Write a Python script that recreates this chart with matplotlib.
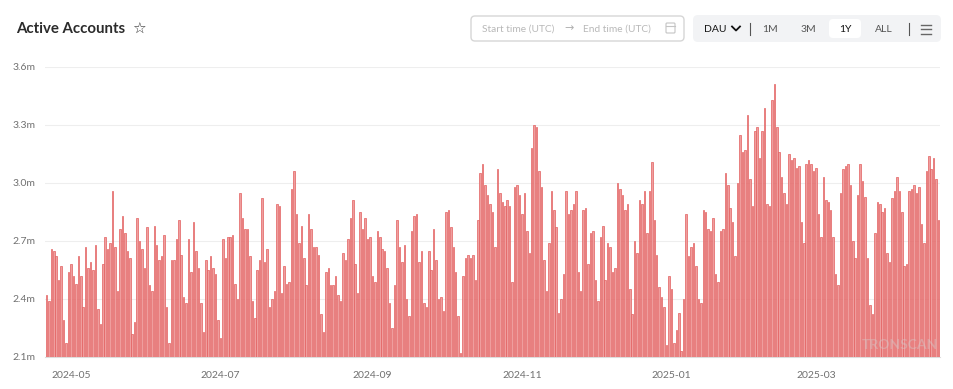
import numpy as np
import pandas as pd
import matplotlib
matplotlib.use("Agg")
import matplotlib.pyplot as plt
import matplotlib.dates as mdates
from matplotlib.patches import FancyBboxPatch
from matplotlib.ticker import FuncFormatter, MultipleLocator

plt.rcParams['font.family'] = ['Lato', 'DejaVu Sans']

# daily active accounts, millions, 2024-04-21 .. 2025-04-20
dau_apr_may = [2.42, 2.39, 2.66, 2.65, 2.62, 2.50, 2.57, 2.29, 2.17, 2.54,
               2.58, 2.52, 2.48, 2.62, 2.52, 2.36, 2.67, 2.56, 2.59, 2.55,
               2.68, 2.35, 2.27, 2.58, 2.72, 2.66, 2.69, 2.96, 2.67, 2.44,
               2.76, 2.83]
dau_may_jun = [2.74, 2.65, 2.61, 2.22, 2.28, 2.82, 2.70, 2.66, 2.56, 2.77,
               2.47, 2.44, 2.78, 2.68, 2.60, 2.62, 2.73, 2.36, 2.17, 2.60,
               2.60, 2.71, 2.81, 2.63, 2.41, 2.38, 2.71, 2.54, 2.80, 2.65,
               2.56, 2.38, 2.23, 2.60]
dau_jun_jul = [2.55, 2.62, 2.56, 2.53, 2.29, 2.20, 2.71, 2.61, 2.72, 2.72,
               2.73, 2.48, 2.40, 2.95, 2.82, 2.76, 2.76, 2.62, 2.39, 2.30,
               2.55, 2.60, 2.92, 2.59, 2.66, 2.36, 2.40, 2.44, 2.89, 2.88,
               2.43, 2.57, 2.48]
dau_jul_aug = [2.49, 2.97, 3.06, 2.84, 2.69, 2.78, 2.61, 2.47, 2.84, 2.76,
               2.67, 2.67, 2.63, 2.32, 2.23, 2.54, 2.56, 2.47, 2.47, 2.52,
               2.42, 2.39, 2.64, 2.60, 2.71, 2.82, 2.91, 2.58, 2.43, 2.85,
               2.76, 2.82, 2.71, 2.72]
dau_sep_oct = [2.52, 2.49, 2.75, 2.72, 2.66, 2.65, 2.56, 2.38, 2.25, 2.47,
               2.81, 2.67, 2.59, 2.68, 2.40, 2.31, 2.75, 2.83, 2.84, 2.59,
               2.65, 2.38, 2.36, 2.65, 2.55, 2.76, 2.60, 2.40, 2.41, 2.34,
               2.85, 2.86, 2.77]
dau_oct_nov = [2.67, 2.54, 2.31, 2.12, 2.52, 2.61, 2.63, 2.61, 2.63, 2.50,
               2.81, 3.05, 3.10, 2.99, 2.94, 2.89, 2.85, 2.67, 3.07, 2.95,
               2.90, 2.88, 2.91, 2.88, 2.49, 2.98, 2.99, 2.94, 2.84, 2.95,
               2.75, 2.64, 3.18, 3.30]
dau_nov_dec = [3.29, 3.06, 2.98, 2.60, 2.44, 2.69, 2.96, 2.86, 2.77, 2.33,
               2.40, 2.53, 2.96, 2.84, 2.86, 2.89, 2.96, 2.54, 2.44, 2.86,
               2.87, 2.58, 2.74, 2.75, 2.50, 2.39, 2.72, 2.78, 2.50, 2.69,
               2.67, 2.54, 2.56]
dau_dec_jan = [3.00, 2.97, 2.94, 2.86, 2.89, 2.45, 2.32, 2.70, 2.64, 2.91,
               2.89, 2.96, 2.74, 2.96, 3.11, 2.81, 2.63, 2.46, 2.41, 2.36,
               2.16, 2.52, 2.45, 2.17, 2.24, 2.33, 2.13, 2.40, 2.84, 2.62,
               2.67, 2.69, 2.57, 2.40]
dau_jan_feb = [2.38, 2.86, 2.85, 2.76, 2.75, 2.82, 2.53, 2.49, 2.75, 2.76,
               3.05, 2.99, 2.87, 2.80, 2.62, 3.00, 3.25, 3.16, 3.17, 3.35,
               3.02, 2.88, 3.27, 3.29, 3.13, 3.27, 3.39, 2.89, 2.88, 3.43,
               3.51, 3.29, 3.16]
dau_feb_mar = [3.03, 2.95, 2.89, 3.15, 3.12, 3.13, 3.08, 3.09, 2.80, 2.69,
               3.10, 3.12, 3.10, 3.06, 3.08, 2.84, 2.72, 3.03, 2.91, 2.90,
               2.86, 2.72, 2.53, 2.47, 2.95, 3.07, 3.09, 3.10, 2.99, 2.70,
               2.61, 2.94, 3.10, 3.01]
dau_mar_apr = [2.93, 2.61, 2.37, 2.32, 2.74, 2.90, 2.89, 2.85, 2.87, 2.64,
               2.59, 2.92, 2.96, 3.03, 2.96, 2.85, 2.57, 2.58, 2.96, 2.97,
               2.99, 2.95, 2.98, 2.79, 2.69, 3.06, 3.14, 3.07, 3.13, 3.02,
               2.81]

dau = np.array(dau_apr_may + dau_may_jun + dau_jun_jul + dau_jul_aug +
               dau_sep_oct + dau_oct_nov + dau_nov_dec + dau_dec_jan +
               dau_jan_feb + dau_feb_mar + dau_mar_apr) * 1e6
dates = pd.date_range('2024-04-21', periods=len(dau), freq='D')

title = "Active Accounts"
range_buttons = ["1M", "3M", "1Y", "ALL"]

fig = plt.figure(figsize=(9.54, 3.89), dpi=100)
fig.patch.set_facecolor('white')

# pixel overlay for the header widgets
ov = fig.add_axes([0, 0, 1, 1])
ov.set_xlim(0, 954)
ov.set_ylim(389, 0)
ov.axis('off')

ov.text(16, 29, title, fontsize=10.8, fontweight='bold', color='#2b2b2b',
        va='center', ha='left')
ov.text(139, 29.5, '\u2606', fontsize=11, color='#333333', va='center',
        ha='center', family='DejaVu Sans')

ov.add_patch(FancyBboxPatch((471, 16), 213, 25, boxstyle='round,pad=0,rounding_size=4',
                            fc='white', ec='#d6d6d6', lw=1))
ov.text(482, 29, 'Start time (UTC)', fontsize=7.3, color='#b8b8b8', va='center')
ov.text(569, 28.5, '\u2192', fontsize=8, color='#b0b0b0', va='center', ha='center',
        family='DejaVu Sans')
ov.text(583, 29, 'End time (UTC)', fontsize=7.3, color='#b8b8b8', va='center')
ov.add_patch(FancyBboxPatch((666, 23), 9, 10, boxstyle='round,pad=0,rounding_size=1',
                            fc='none', ec='#c4c4c4', lw=0.8))
ov.plot([666, 675], [26, 26], color='#c4c4c4', lw=0.8)

ov.add_patch(FancyBboxPatch((693, 15), 248, 27, boxstyle='round,pad=0,rounding_size=5',
                            fc='#f2f3f5', ec='none'))
ov.text(704, 29, 'DAU', fontsize=7.5, color='#111111', va='center')
ov.plot([732, 736, 740], [26.5, 30.5, 26.5], color='#111111', lw=1.3)
ov.plot([750, 750], [23, 35], color='#555555', lw=0.8)
ov.add_patch(FancyBboxPatch((829, 19), 32, 19, boxstyle='round,pad=0,rounding_size=4',
                            fc='white', ec='none'))
for label, xc in zip(range_buttons, [770, 808, 845, 884]):
    ov.text(xc, 29, label, fontsize=7.5, va='center', ha='center',
            color='#111111' if label == '1Y' else '#555555')
ov.plot([909, 909], [23, 35], color='#555555', lw=0.8)
for yy in [24.5, 29, 33.5]:
    ov.plot([921, 931], [yy, yy], color='#666666', lw=1)

# main chart
ax = fig.add_axes([45 / 954, 32 / 389, 895 / 954, 290 / 389])
ax.bar(dates, dau, width=0.62, color='#ef9e9e', edgecolor='#e35f5f',
       linewidth=0.5, zorder=3)
ax.set_ylim(2.1e6, 3.6e6)
ax.set_xlim(dates[0] - pd.Timedelta(hours=14), dates[-1] + pd.Timedelta(hours=14))
ax.yaxis.set_major_locator(MultipleLocator(0.3e6))
ax.yaxis.set_major_formatter(FuncFormatter(lambda v, p: f"{v / 1e6:.1f}m"))
ax.xaxis.set_major_locator(mdates.MonthLocator(bymonth=[1, 3, 5, 7, 9, 11]))
ax.xaxis.set_major_formatter(mdates.DateFormatter('%Y-%m'))
ax.grid(axis='y', color='#eeeeee', lw=0.8, zorder=0)
for s in ['top', 'right', 'left']:
    ax.spines[s].set_visible(False)
ax.spines['bottom'].set_color('#dddddd')
ax.tick_params(axis='both', length=0, labelsize=7.5, colors='#707070')
ax.tick_params(axis='x', pad=10)
ax.tick_params(axis='y', pad=7)
ax.set_facecolor('none')

ax.text(0.998, 0.04, 'TRONSCAN', transform=ax.transAxes, ha='right', va='center',
        fontsize=10, fontweight='bold', color='#d0d0d0', alpha=0.4, zorder=5)

fig.savefig('out.png', dpi=100)
